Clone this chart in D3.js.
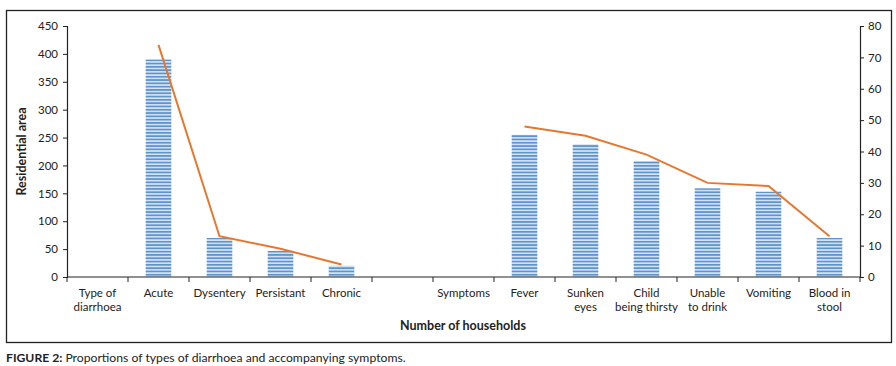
<!DOCTYPE html>
<html>
<head>
<meta charset="utf-8">
<script src="https://cdn.jsdelivr.net/npm/d3@7"></script>
<style>
  body { margin: 0; background: #fff; }
  text { font-family: Lato, "Noto Sans", sans-serif; fill: #222; }
</style>
</head>
<body>
<div id="chart"></div>
<script>
const categories = [
  ["Type of", "diarrhoea"], ["Acute"], ["Dysentery"], ["Persistant"], ["Chronic"], [""],
  ["Symptoms"], ["Fever"], ["Sunken", "eyes"], ["Child", "being thirsty"],
  ["Unable", "to drink"], ["Vomiting"], ["Blood in", "stool"]
];
// left axis (bars)
const barValues = [null, 390, 70, 47, 20, null, null, 255, 238, 208, 159, 153, 70];
// right axis (line)
const lineValues = [null, 74, 13, 9, 4, null, null, 48, 45, 39, 30, 29, 13];
const leftTicks = [0, 50, 100, 150, 200, 250, 300, 350, 400, 450];
const rightTicks = [0, 10, 20, 30, 40, 50, 60, 70, 80];

const W = 896, H = 366;
const plot = { left: 67, right: 860, top: 26, bottom: 277 };

const svg = d3.select("#chart").append("svg")
  .attr("width", W).attr("height", H);

// stripe pattern for bars
const defs = svg.append("defs");
const pat = defs.append("pattern")
  .attr("id", "stripes")
  .attr("patternUnits", "userSpaceOnUse")
  .attr("width", 10).attr("height", 3.3);
pat.append("rect").attr("width", 10).attr("height", 3.3).attr("fill", "#d4e3f3");
pat.append("rect").attr("width", 10).attr("height", 1.7).attr("fill", "#5f93cc");

// outer frame
svg.append("rect")
  .attr("x", 6.5).attr("y", 10.5)
  .attr("width", 885).attr("height", 332)
  .attr("fill", "none").attr("stroke", "#222").attr("stroke-width", 1.3);

const x = d3.scaleBand()
  .domain(d3.range(categories.length))
  .range([plot.left, plot.right]);

const yL = d3.scaleLinear().domain([0, 450]).range([plot.bottom, plot.top]);
const yR = d3.scaleLinear().domain([0, 80]).range([plot.bottom, plot.top]);

// bars
const barW = x.bandwidth() * 0.42;
svg.append("g")
  .selectAll("rect")
  .data(barValues.map((v, i) => ({ v, i })).filter((d) => d.v !== null))
  .join("rect")
  .attr("x", (d) => x(d.i) + (x.bandwidth() - barW) / 2)
  .attr("y", (d) => yL(d.v))
  .attr("width", barW)
  .attr("height", (d) => yL(0) - yL(d.v))
  .attr("fill", "url(#stripes)");

// left axis
const axL = svg.append("g")
  .attr("transform", `translate(${plot.left},0)`)
  .call(d3.axisLeft(yL).tickValues(leftTicks).tickSize(4).tickPadding(5));
axL.select(".domain").attr("stroke", "#222").attr("stroke-width", 1.2);
axL.selectAll(".tick line").attr("stroke", "#222");
axL.selectAll("text").style("font-size", "11.5px").style("font-family", "Lato, sans-serif").attr("fill", "#222");

// right axis
const axR = svg.append("g")
  .attr("transform", `translate(${plot.right},0)`)
  .call(d3.axisRight(yR).tickValues(rightTicks).tickSize(4).tickPadding(4));
axR.select(".domain").attr("stroke", "#222").attr("stroke-width", 1.2);
axR.selectAll(".tick line").attr("stroke", "#222");
axR.selectAll("text").style("font-size", "11.5px").style("font-family", "Lato, sans-serif").attr("fill", "#222");

// bottom axis: line + boundary ticks
const axB = svg.append("g");
axB.append("line")
  .attr("x1", plot.left).attr("x2", plot.right)
  .attr("y1", plot.bottom).attr("y2", plot.bottom)
  .attr("stroke", "#222").attr("stroke-width", 1.2);
axB.selectAll("line.tk")
  .data(d3.range(categories.length + 1))
  .join("line")
  .attr("class", "tk")
  .attr("x1", (i) => (i < categories.length ? x(i) : plot.right))
  .attr("x2", (i) => (i < categories.length ? x(i) : plot.right))
  .attr("y1", plot.bottom).attr("y2", plot.bottom + 5)
  .attr("stroke", "#222");

const lbl = axB.selectAll("text.cat")
  .data(categories)
  .join("text")
  .attr("class", "cat")
  .attr("text-anchor", "middle")
  .style("font-size", "11.5px")
  .attr("transform", (d, i) => `translate(${x(i) + x.bandwidth() / 2},297)`);
lbl.selectAll("tspan")
  .data((d) => d)
  .join("tspan")
  .attr("x", 0)
  .attr("dy", (d, j) => (j === 0 ? 0 : 13.5))
  .text((d) => d);

// line series
const pts = lineValues.map((v, i) => ({ v, i }));
svg.append("path")
  .datum(pts)
  .attr("fill", "none")
  .attr("stroke", "#e8772e")
  .attr("stroke-width", 2)
  .attr("d", d3.line()
    .defined((d) => d.v !== null)
    .x((d) => x(d.i) + x.bandwidth() / 2)
    .y((d) => yR(d.v)));

// axis titles
svg.append("text")
  .attr("transform", `translate(26,${(plot.top + plot.bottom) / 2}) rotate(-90)`)
  .attr("text-anchor", "middle")
  .style("font-size", "12.5px")
  .style("font-weight", "bold")
  .text("Residential area");

svg.append("text")
  .attr("x", 463).attr("y", 330)
  .attr("text-anchor", "middle")
  .style("font-size", "12.5px")
  .style("font-weight", "bold")
  .text("Number of households");

// caption
const cap = svg.append("text")
  .attr("x", 6).attr("y", 362)
  .style("font-size", "12.2px");
cap.append("tspan").style("font-weight", "bold").text("FIGURE 2: ");
cap.append("tspan").text("Proportions of types of diarrhoea and accompanying symptoms.");
</script>
</body>
</html>
